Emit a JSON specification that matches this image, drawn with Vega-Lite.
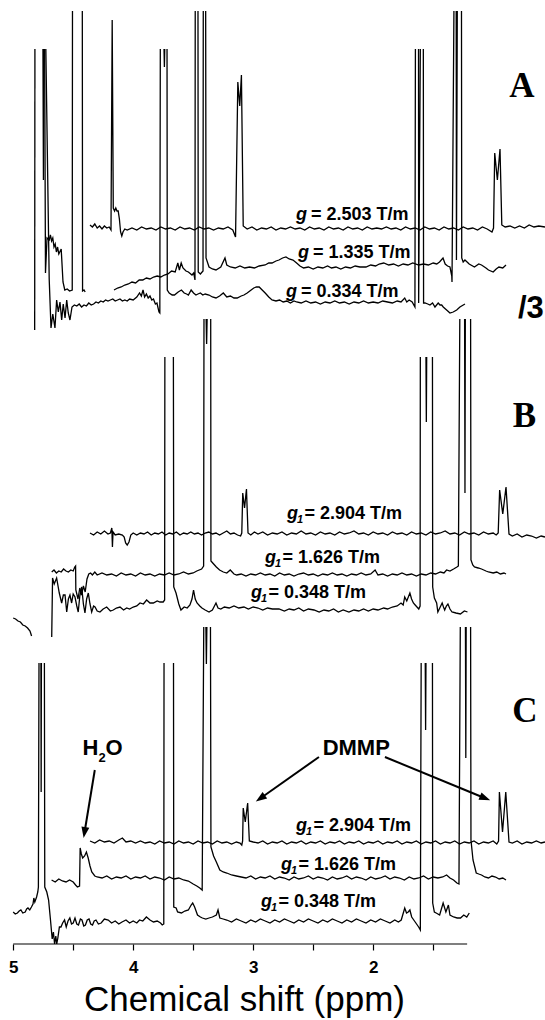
{
"$schema": "https://vega.github.io/schema/vega-lite/v6.json",
"width": 545, "height": 944,
"autosize": {"type": "none"},
"padding": {"left": 0, "top": 0, "right": 0, "bottom": 76},
"background": "white",
"config": {"view": {"stroke": null}, "font": "Liberation Sans"},
"datasets": {
"tr": [
{"s":"a1","x":4.36,"y":719},{"s":"a1","x":4.34,"y":717},{"s":"a1","x":4.32,"y":720},{"s":"a1","x":4.30,"y":716},{"s":"a1","x":4.28,"y":718},{"s":"a1","x":4.26,"y":715},{"s":"a1","x":4.24,"y":718},{"s":"a1","x":4.22,"y":716},{"s":"a1","x":4.20,"y":717},{"s":"a1","x":4.185,"y":714},{"s":"a1","x":4.175,"y":924},{"s":"a1","x":4.166,"y":736},{"s":"a1","x":4.155,"y":733},{"s":"a1","x":4.145,"y":736},{"s":"a1","x":4.135,"y":733},{"s":"a1","x":4.125,"y":733},{"s":"a1","x":4.115,"y":725},{"s":"a1","x":4.105,"y":712},{"s":"a1","x":4.095,"y":708},{"s":"a1","x":4.085,"y":712},{"s":"a1","x":4.07,"y":715},{"s":"a1","x":4.05,"y":714},{"s":"a1","x":4.01,"y":716},{"s":"a1","x":3.97,"y":714},{"s":"a1","x":3.93,"y":717},{"s":"a1","x":3.89,"y":715},{"s":"a1","x":3.85,"y":716},{"s":"a1","x":3.81,"y":714},{"s":"a1","x":3.77,"y":717},{"s":"a1","x":3.73,"y":715},{"s":"a1","x":3.69,"y":716},{"s":"a1","x":3.65,"y":714},{"s":"a1","x":3.61,"y":717},{"s":"a1","x":3.57,"y":715},{"s":"a1","x":3.53,"y":716},{"s":"a1","x":3.49,"y":714},{"s":"a1","x":3.45,"y":717},{"s":"a1","x":3.41,"y":715},{"s":"a1","x":3.37,"y":716},{"s":"a1","x":3.33,"y":714},{"s":"a1","x":3.29,"y":716},{"s":"a1","x":3.25,"y":715},{"s":"a1","x":3.21,"y":717},{"s":"a1","x":3.17,"y":714},{"s":"a1","x":3.147,"y":707},{"s":"a1","x":3.128,"y":862},{"s":"a1","x":3.112,"y":838},{"s":"a1","x":3.098,"y":869},{"s":"a1","x":3.083,"y":718},{"s":"a1","x":3.05,"y":715},{"s":"a1","x":3.01,"y":717},{"s":"a1","x":2.97,"y":714},{"s":"a1","x":2.93,"y":716},{"s":"a1","x":2.89,"y":715},{"s":"a1","x":2.85,"y":717},{"s":"a1","x":2.81,"y":714},{"s":"a1","x":2.77,"y":716},{"s":"a1","x":2.73,"y":715},{"s":"a1","x":2.69,"y":717},{"s":"a1","x":2.65,"y":715},{"s":"a1","x":2.61,"y":716},{"s":"a1","x":2.57,"y":714},{"s":"a1","x":2.53,"y":717},{"s":"a1","x":2.49,"y":715},{"s":"a1","x":2.45,"y":716},{"s":"a1","x":2.41,"y":714},{"s":"a1","x":2.37,"y":717},{"s":"a1","x":2.33,"y":715},{"s":"a1","x":2.29,"y":716},{"s":"a1","x":2.25,"y":714},{"s":"a1","x":2.21,"y":717},{"s":"a1","x":2.17,"y":715},{"s":"a1","x":2.13,"y":716},{"s":"a1","x":2.09,"y":714},{"s":"a1","x":2.05,"y":717},{"s":"a1","x":2.01,"y":715},{"s":"a1","x":1.97,"y":716},{"s":"a1","x":1.93,"y":715},{"s":"a1","x":1.89,"y":717},{"s":"a1","x":1.85,"y":715},{"s":"a1","x":1.81,"y":716},{"s":"a1","x":1.77,"y":714},{"s":"a1","x":1.73,"y":717},{"s":"a1","x":1.69,"y":715},{"s":"a1","x":1.65,"y":716},{"s":"a1","x":1.61,"y":714},{"s":"a1","x":1.57,"y":717},{"s":"a1","x":1.53,"y":715},{"s":"a1","x":1.49,"y":716},{"s":"a1","x":1.45,"y":714},{"s":"a1","x":1.41,"y":717},{"s":"a1","x":1.37,"y":715},{"s":"a1","x":1.33,"y":716},{"s":"a1","x":1.29,"y":714},{"s":"a1","x":1.25,"y":717},{"s":"a1","x":1.21,"y":715},{"s":"a1","x":1.17,"y":716},{"s":"a1","x":1.13,"y":714},{"s":"a1","x":1.09,"y":717},{"s":"a1","x":1.05,"y":715},{"s":"a1","x":1.01,"y":712},{"s":"a1","x":0.997,"y":716},{"s":"a1","x":0.987,"y":791},{"s":"a1","x":0.965,"y":764},{"s":"a1","x":0.943,"y":795},{"s":"a1","x":0.928,"y":719},{"s":"a1","x":0.90,"y":717},{"s":"a1","x":0.86,"y":718},{"s":"a1","x":0.82,"y":716},{"s":"a1","x":0.78,"y":718},{"s":"a1","x":0.74,"y":716},{"s":"a1","x":0.70,"y":719},{"s":"a1","x":0.66,"y":717},{"s":"a1","x":0.62,"y":718},{"s":"a1","x":0.568,"y":717},
{"s":"a2a","x":4.752,"y":895},{"s":"a2a","x":4.748,"y":764},{"s":"a2a","x":4.745,"y":895},
{"s":"a2b","x":4.738,"y":895},{"s":"a2b","x":4.731,"y":671},{"s":"a2b","x":4.718,"y":706},{"s":"a2b","x":4.70,"y":704},{"s":"a2b","x":4.69,"y":709},{"s":"a2b","x":4.68,"y":703},{"s":"a2b","x":4.67,"y":706},{"s":"a2b","x":4.66,"y":697},{"s":"a2b","x":4.65,"y":700},{"s":"a2b","x":4.64,"y":692},{"s":"a2b","x":4.63,"y":697},{"s":"a2b","x":4.62,"y":690},{"s":"a2b","x":4.60,"y":695},{"s":"a2b","x":4.585,"y":662},{"s":"a2b","x":4.57,"y":654},{"s":"a2b","x":4.55,"y":655},{"s":"a2b","x":4.53,"y":653},{"s":"a2b","x":4.508,"y":654},{"s":"a2b","x":4.506,"y":933},
{"s":"a2c","x":4.424,"y":933},{"s":"a2c","x":4.422,"y":653},{"s":"a2c","x":4.41,"y":654},{"s":"a2c","x":4.40,"y":652},
{"s":"a2d","x":4.16,"y":654},{"s":"a2d","x":4.13,"y":656},{"s":"a2d","x":4.10,"y":657},{"s":"a2d","x":4.07,"y":659},{"s":"a2d","x":4.04,"y":660},{"s":"a2d","x":4.01,"y":662},{"s":"a2d","x":3.98,"y":661},{"s":"a2d","x":3.95,"y":664},{"s":"a2d","x":3.92,"y":664},{"s":"a2d","x":3.89,"y":666},{"s":"a2d","x":3.86,"y":665},{"s":"a2d","x":3.83,"y":667},{"s":"a2d","x":3.80,"y":668},{"s":"a2d","x":3.77,"y":667},{"s":"a2d","x":3.74,"y":669},{"s":"a2d","x":3.71,"y":670},{"s":"a2d","x":3.68,"y":673},{"s":"a2d","x":3.65,"y":672},{"s":"a2d","x":3.628,"y":681},{"s":"a2d","x":3.615,"y":674},{"s":"a2d","x":3.60,"y":681},{"s":"a2d","x":3.585,"y":676},{"s":"a2d","x":3.56,"y":673},{"s":"a2d","x":3.54,"y":672},{"s":"a2d","x":3.51,"y":669},{"s":"a2d","x":3.496,"y":671},{"s":"a2d","x":3.485,"y":664},{"s":"a2d","x":3.483,"y":933},
{"s":"a2e","x":3.46,"y":933},{"s":"a2e","x":3.458,"y":672},{"s":"a2e","x":3.44,"y":670},{"s":"a2e","x":3.418,"y":673},{"s":"a2e","x":3.416,"y":933},
{"s":"a2f","x":3.396,"y":933},{"s":"a2f","x":3.393,"y":686},{"s":"a2f","x":3.368,"y":677},{"s":"a2f","x":3.34,"y":675},{"s":"a2f","x":3.31,"y":674},{"s":"a2f","x":3.27,"y":677},{"s":"a2f","x":3.235,"y":686},{"s":"a2f","x":3.22,"y":679},{"s":"a2f","x":3.19,"y":677},{"s":"a2f","x":3.15,"y":676},{"s":"a2f","x":3.11,"y":678},{"s":"a2f","x":3.07,"y":676},{"s":"a2f","x":3.03,"y":677},{"s":"a2f","x":2.99,"y":676},{"s":"a2f","x":2.95,"y":678},{"s":"a2f","x":2.90,"y":679},{"s":"a2f","x":2.87,"y":681},{"s":"a2f","x":2.843,"y":681},{"s":"a2f","x":2.81,"y":683},{"s":"a2f","x":2.785,"y":684},{"s":"a2f","x":2.755,"y":686},{"s":"a2f","x":2.727,"y":687},{"s":"a2f","x":2.70,"y":685},{"s":"a2f","x":2.668,"y":684},{"s":"a2f","x":2.638,"y":681},{"s":"a2f","x":2.61,"y":678},{"s":"a2f","x":2.58,"y":676},{"s":"a2f","x":2.54,"y":677},{"s":"a2f","x":2.50,"y":675},{"s":"a2f","x":2.46,"y":677},{"s":"a2f","x":2.42,"y":676},{"s":"a2f","x":2.38,"y":678},{"s":"a2f","x":2.347,"y":676},{"s":"a2f","x":2.31,"y":677},{"s":"a2f","x":2.27,"y":675},{"s":"a2f","x":2.23,"y":677},{"s":"a2f","x":2.19,"y":676},{"s":"a2f","x":2.15,"y":678},{"s":"a2f","x":2.11,"y":677},{"s":"a2f","x":2.06,"y":677},{"s":"a2f","x":2.02,"y":679},{"s":"a2f","x":1.98,"y":678},{"s":"a2f","x":1.95,"y":680},{"s":"a2f","x":1.912,"y":681},{"s":"a2f","x":1.87,"y":679},{"s":"a2f","x":1.83,"y":680},{"s":"a2f","x":1.79,"y":678},{"s":"a2f","x":1.75,"y":680},{"s":"a2f","x":1.71,"y":679},{"s":"a2f","x":1.67,"y":681},{"s":"a2f","x":1.621,"y":679},{"s":"a2f","x":1.58,"y":680},{"s":"a2f","x":1.54,"y":679},{"s":"a2f","x":1.50,"y":681},{"s":"a2f","x":1.47,"y":680},{"s":"a2f","x":1.447,"y":682},{"s":"a2f","x":1.418,"y":686},{"s":"a2f","x":1.40,"y":680},{"s":"a2f","x":1.38,"y":678},{"s":"a2f","x":1.36,"y":677},{"s":"a2f","x":1.345,"y":668},{"s":"a2f","x":1.343,"y":662},{"s":"a2f","x":1.327,"y":933},
{"s":"a2g","x":1.308,"y":933},{"s":"a2g","x":1.306,"y":684},{"s":"a2g","x":1.299,"y":933},
{"s":"a2h","x":1.264,"y":933},{"s":"a2h","x":1.262,"y":686},{"s":"a2h","x":1.25,"y":682},{"s":"a2h","x":1.235,"y":684},{"s":"a2h","x":1.20,"y":680},{"s":"a2h","x":1.156,"y":677},{"s":"a2h","x":1.12,"y":680},{"s":"a2h","x":1.097,"y":679},{"s":"a2h","x":1.06,"y":676},{"s":"a2h","x":1.039,"y":674},{"s":"a2h","x":1.0,"y":672},{"s":"a2h","x":0.975,"y":675},{"s":"a2h","x":0.952,"y":677},{"s":"a2h","x":0.92,"y":676},{"s":"a2h","x":0.893,"y":679},
{"s":"a3a","x":4.821,"y":614},{"s":"a3a","x":4.819,"y":895},
{"s":"a3b","x":4.728,"y":895},{"s":"a3b","x":4.70,"y":665},{"s":"a3b","x":4.685,"y":616},{"s":"a3b","x":4.67,"y":630},{"s":"a3b","x":4.652,"y":616},{"s":"a3b","x":4.638,"y":644},{"s":"a3b","x":4.624,"y":632},{"s":"a3b","x":4.61,"y":642},{"s":"a3b","x":4.596,"y":624},{"s":"a3b","x":4.583,"y":640},{"s":"a3b","x":4.568,"y":626},{"s":"a3b","x":4.554,"y":644},{"s":"a3b","x":4.541,"y":631},{"s":"a3b","x":4.527,"y":624},{"s":"a3b","x":4.51,"y":637},{"s":"a3b","x":4.49,"y":639},{"s":"a3b","x":4.47,"y":638},{"s":"a3b","x":4.45,"y":640},{"s":"a3b","x":4.43,"y":637},{"s":"a3b","x":4.41,"y":639},{"s":"a3b","x":4.39,"y":638},{"s":"a3b","x":4.37,"y":641},{"s":"a3b","x":4.35,"y":639},{"s":"a3b","x":4.33,"y":640},{"s":"a3b","x":4.31,"y":642},{"s":"a3b","x":4.29,"y":641},{"s":"a3b","x":4.27,"y":643},{"s":"a3b","x":4.25,"y":642},{"s":"a3b","x":4.23,"y":644},{"s":"a3b","x":4.21,"y":643},{"s":"a3b","x":4.19,"y":644},{"s":"a3b","x":4.17,"y":645},{"s":"a3b","x":4.15,"y":643},{"s":"a3b","x":4.13,"y":644},{"s":"a3b","x":4.11,"y":645},{"s":"a3b","x":4.09,"y":643},{"s":"a3b","x":4.07,"y":644},{"s":"a3b","x":4.05,"y":643},{"s":"a3b","x":4.03,"y":645},{"s":"a3b","x":4.0,"y":644},{"s":"a3b","x":3.97,"y":647},{"s":"a3b","x":3.947,"y":651},{"s":"a3b","x":3.932,"y":648},{"s":"a3b","x":3.918,"y":654},{"s":"a3b","x":3.905,"y":647},{"s":"a3b","x":3.89,"y":650},{"s":"a3b","x":3.875,"y":646},{"s":"a3b","x":3.86,"y":648},{"s":"a3b","x":3.845,"y":644},{"s":"a3b","x":3.831,"y":645},{"s":"a3b","x":3.815,"y":640},{"s":"a3b","x":3.802,"y":641},{"s":"a3b","x":3.785,"y":632},{"s":"a3b","x":3.778,"y":631},{"s":"a3b","x":3.774,"y":895},
{"s":"a3c","x":3.743,"y":895},{"s":"a3c","x":3.740,"y":877},{"s":"a3c","x":3.737,"y":895},
{"s":"a3d","x":3.718,"y":895},{"s":"a3d","x":3.716,"y":654},{"s":"a3d","x":3.70,"y":651},{"s":"a3d","x":3.675,"y":649},{"s":"a3d","x":3.656,"y":649},{"s":"a3d","x":3.625,"y":652},{"s":"a3d","x":3.598,"y":654},{"s":"a3d","x":3.575,"y":651},{"s":"a3d","x":3.555,"y":650},{"s":"a3d","x":3.54,"y":649},{"s":"a3d","x":3.517,"y":654},{"s":"a3d","x":3.497,"y":651},{"s":"a3d","x":3.477,"y":649},{"s":"a3d","x":3.46,"y":650},{"s":"a3d","x":3.44,"y":651},{"s":"a3d","x":3.42,"y":649},{"s":"a3d","x":3.40,"y":650},{"s":"a3d","x":3.368,"y":649},{"s":"a3d","x":3.34,"y":647},{"s":"a3d","x":3.31,"y":646},{"s":"a3d","x":3.28,"y":648},{"s":"a3d","x":3.249,"y":651},{"s":"a3d","x":3.22,"y":647},{"s":"a3d","x":3.19,"y":648},{"s":"a3d","x":3.16,"y":646},{"s":"a3d","x":3.133,"y":646},{"s":"a3d","x":3.10,"y":648},{"s":"a3d","x":3.077,"y":649},{"s":"a3d","x":3.05,"y":651},{"s":"a3d","x":3.017,"y":654},{"s":"a3d","x":2.995,"y":656},{"s":"a3d","x":2.973,"y":657},{"s":"a3d","x":2.95,"y":657},{"s":"a3d","x":2.925,"y":654},{"s":"a3d","x":2.9,"y":651},{"s":"a3d","x":2.87,"y":647},{"s":"a3d","x":2.843,"y":644},{"s":"a3d","x":2.81,"y":643},{"s":"a3d","x":2.78,"y":644},{"s":"a3d","x":2.75,"y":642},{"s":"a3d","x":2.72,"y":643},{"s":"a3d","x":2.69,"y":641},{"s":"a3d","x":2.66,"y":643},{"s":"a3d","x":2.638,"y":642},{"s":"a3d","x":2.60,"y":641},{"s":"a3d","x":2.56,"y":643},{"s":"a3d","x":2.52,"y":641},{"s":"a3d","x":2.48,"y":642},{"s":"a3d","x":2.44,"y":640},{"s":"a3d","x":2.40,"y":642},{"s":"a3d","x":2.36,"y":641},{"s":"a3d","x":2.32,"y":643},{"s":"a3d","x":2.28,"y":641},{"s":"a3d","x":2.24,"y":642},{"s":"a3d","x":2.20,"y":640},{"s":"a3d","x":2.16,"y":642},{"s":"a3d","x":2.12,"y":641},{"s":"a3d","x":2.08,"y":643},{"s":"a3d","x":2.04,"y":641},{"s":"a3d","x":2.00,"y":642},{"s":"a3d","x":1.96,"y":641},{"s":"a3d","x":1.92,"y":643},{"s":"a3d","x":1.88,"y":642},{"s":"a3d","x":1.84,"y":641},{"s":"a3d","x":1.80,"y":643},{"s":"a3d","x":1.768,"y":642},{"s":"a3d","x":1.737,"y":646},{"s":"a3d","x":1.72,"y":642},{"s":"a3d","x":1.70,"y":644},{"s":"a3d","x":1.675,"y":642},{"s":"a3d","x":1.652,"y":637},{"s":"a3d","x":1.648,"y":895},
{"s":"a3e","x":1.622,"y":895},{"s":"a3e","x":1.621,"y":641},{"s":"a3e","x":1.607,"y":895},
{"s":"a3f","x":1.582,"y":895},{"s":"a3f","x":1.58,"y":641},{"s":"a3f","x":1.568,"y":641},{"s":"a3f","x":1.545,"y":640},{"s":"a3f","x":1.527,"y":639},{"s":"a3f","x":1.505,"y":641},{"s":"a3f","x":1.485,"y":637},{"s":"a3f","x":1.458,"y":641},{"s":"a3f","x":1.443,"y":639},{"s":"a3f","x":1.429,"y":639},{"s":"a3f","x":1.416,"y":637},{"s":"a3f","x":1.388,"y":634},{"s":"a3f","x":1.36,"y":631},{"s":"a3f","x":1.333,"y":632},{"s":"a3f","x":1.304,"y":634},{"s":"a3f","x":1.277,"y":637},{"s":"a3f","x":1.235,"y":640},
{"s":"b1","x":4.36,"y":411},{"s":"b1","x":4.33,"y":409},{"s":"b1","x":4.30,"y":412},{"s":"b1","x":4.27,"y":410},{"s":"b1","x":4.24,"y":413},{"s":"b1","x":4.21,"y":410},{"s":"b1","x":4.19,"y":411},{"s":"b1","x":4.178,"y":416},{"s":"b1","x":4.173,"y":397},{"s":"b1","x":4.168,"y":412},{"s":"b1","x":4.15,"y":409},{"s":"b1","x":4.12,"y":410},{"s":"b1","x":4.09,"y":409},{"s":"b1","x":4.075,"y":407},{"s":"b1","x":4.063,"y":401},{"s":"b1","x":4.05,"y":399},{"s":"b1","x":4.035,"y":402},{"s":"b1","x":4.02,"y":409},{"s":"b1","x":4.0,"y":411},{"s":"b1","x":3.97,"y":409},{"s":"b1","x":3.94,"y":411},{"s":"b1","x":3.91,"y":410},{"s":"b1","x":3.88,"y":412},{"s":"b1","x":3.85,"y":409},{"s":"b1","x":3.82,"y":411},{"s":"b1","x":3.79,"y":410},{"s":"b1","x":3.76,"y":412},{"s":"b1","x":3.73,"y":409},{"s":"b1","x":3.70,"y":411},{"s":"b1","x":3.67,"y":410},{"s":"b1","x":3.64,"y":412},{"s":"b1","x":3.61,"y":409},{"s":"b1","x":3.58,"y":411},{"s":"b1","x":3.55,"y":410},{"s":"b1","x":3.52,"y":412},{"s":"b1","x":3.49,"y":410},{"s":"b1","x":3.46,"y":411},{"s":"b1","x":3.43,"y":409},{"s":"b1","x":3.40,"y":411},{"s":"b1","x":3.37,"y":412},{"s":"b1","x":3.34,"y":410},{"s":"b1","x":3.31,"y":411},{"s":"b1","x":3.28,"y":409},{"s":"b1","x":3.25,"y":411},{"s":"b1","x":3.22,"y":413},{"s":"b1","x":3.19,"y":410},{"s":"b1","x":3.16,"y":411},{"s":"b1","x":3.13,"y":409},{"s":"b1","x":3.105,"y":408},{"s":"b1","x":3.095,"y":411},{"s":"b1","x":3.087,"y":451},{"s":"b1","x":3.072,"y":436},{"s":"b1","x":3.056,"y":455},{"s":"b1","x":3.043,"y":411},{"s":"b1","x":3.02,"y":409},{"s":"b1","x":2.99,"y":412},{"s":"b1","x":2.96,"y":410},{"s":"b1","x":2.92,"y":412},{"s":"b1","x":2.88,"y":409},{"s":"b1","x":2.84,"y":411},{"s":"b1","x":2.80,"y":410},{"s":"b1","x":2.76,"y":412},{"s":"b1","x":2.72,"y":409},{"s":"b1","x":2.68,"y":411},{"s":"b1","x":2.64,"y":410},{"s":"b1","x":2.60,"y":413},{"s":"b1","x":2.56,"y":410},{"s":"b1","x":2.52,"y":411},{"s":"b1","x":2.48,"y":409},{"s":"b1","x":2.44,"y":412},{"s":"b1","x":2.40,"y":410},{"s":"b1","x":2.36,"y":411},{"s":"b1","x":2.32,"y":409},{"s":"b1","x":2.28,"y":412},{"s":"b1","x":2.24,"y":410},{"s":"b1","x":2.20,"y":411},{"s":"b1","x":2.16,"y":413},{"s":"b1","x":2.12,"y":410},{"s":"b1","x":2.08,"y":411},{"s":"b1","x":2.04,"y":409},{"s":"b1","x":2.00,"y":412},{"s":"b1","x":1.96,"y":410},{"s":"b1","x":1.92,"y":411},{"s":"b1","x":1.88,"y":409},{"s":"b1","x":1.84,"y":412},{"s":"b1","x":1.80,"y":410},{"s":"b1","x":1.76,"y":411},{"s":"b1","x":1.72,"y":409},{"s":"b1","x":1.68,"y":412},{"s":"b1","x":1.64,"y":410},{"s":"b1","x":1.60,"y":411},{"s":"b1","x":1.56,"y":409},{"s":"b1","x":1.52,"y":412},{"s":"b1","x":1.48,"y":410},{"s":"b1","x":1.44,"y":411},{"s":"b1","x":1.40,"y":413},{"s":"b1","x":1.36,"y":410},{"s":"b1","x":1.32,"y":411},{"s":"b1","x":1.28,"y":409},{"s":"b1","x":1.24,"y":412},{"s":"b1","x":1.20,"y":410},{"s":"b1","x":1.16,"y":411},{"s":"b1","x":1.12,"y":409},{"s":"b1","x":1.08,"y":412},{"s":"b1","x":1.04,"y":410},{"s":"b1","x":1.00,"y":411},{"s":"b1","x":0.975,"y":409},{"s":"b1","x":0.958,"y":411},{"s":"b1","x":0.946,"y":454},{"s":"b1","x":0.92,"y":430},{"s":"b1","x":0.893,"y":457},{"s":"b1","x":0.868,"y":410},{"s":"b1","x":0.84,"y":408},{"s":"b1","x":0.80,"y":410},{"s":"b1","x":0.76,"y":407},{"s":"b1","x":0.72,"y":409},{"s":"b1","x":0.68,"y":408},{"s":"b1","x":0.64,"y":406},{"s":"b1","x":0.60,"y":408},{"s":"b1","x":0.568,"y":407},
{"s":"b2","x":4.679,"y":372},{"s":"b2","x":4.66,"y":374},{"s":"b2","x":4.64,"y":371},{"s":"b2","x":4.62,"y":373},{"s":"b2","x":4.60,"y":372},{"s":"b2","x":4.58,"y":375},{"s":"b2","x":4.56,"y":373},{"s":"b2","x":4.54,"y":372},{"s":"b2","x":4.52,"y":374},{"s":"b2","x":4.50,"y":373},{"s":"b2","x":4.487,"y":377},{"s":"b2","x":4.48,"y":378},{"s":"b2","x":4.478,"y":354},{"s":"b2","x":4.46,"y":345},{"s":"b2","x":4.445,"y":356},{"s":"b2","x":4.43,"y":349},{"s":"b2","x":4.415,"y":358},{"s":"b2","x":4.40,"y":352},{"s":"b2","x":4.385,"y":365},{"s":"b2","x":4.37,"y":370},{"s":"b2","x":4.355,"y":371},{"s":"b2","x":4.34,"y":369},{"s":"b2","x":4.32,"y":372},{"s":"b2","x":4.30,"y":369},{"s":"b2","x":4.26,"y":371},{"s":"b2","x":4.22,"y":369},{"s":"b2","x":4.18,"y":370},{"s":"b2","x":4.14,"y":368},{"s":"b2","x":4.10,"y":371},{"s":"b2","x":4.06,"y":369},{"s":"b2","x":4.02,"y":370},{"s":"b2","x":3.98,"y":368},{"s":"b2","x":3.94,"y":371},{"s":"b2","x":3.90,"y":369},{"s":"b2","x":3.86,"y":370},{"s":"b2","x":3.82,"y":368},{"s":"b2","x":3.78,"y":370},{"s":"b2","x":3.74,"y":369},{"s":"b2","x":3.70,"y":371},{"s":"b2","x":3.66,"y":369},{"s":"b2","x":3.62,"y":370},{"s":"b2","x":3.58,"y":372},{"s":"b2","x":3.54,"y":370},{"s":"b2","x":3.50,"y":371},{"s":"b2","x":3.47,"y":373},{"s":"b2","x":3.43,"y":375},{"s":"b2","x":3.413,"y":378},{"s":"b2","x":3.41,"y":625},
{"s":"b2b","x":3.392,"y":625},{"s":"b2b","x":3.388,"y":600},{"s":"b2b","x":3.384,"y":625},
{"s":"b2c","x":3.354,"y":625},{"s":"b2c","x":3.352,"y":383},{"s":"b2c","x":3.337,"y":381},{"s":"b2c","x":3.307,"y":377},{"s":"b2c","x":3.28,"y":374},{"s":"b2c","x":3.249,"y":372},{"s":"b2c","x":3.22,"y":371},{"s":"b2c","x":3.191,"y":374},{"s":"b2c","x":3.16,"y":370},{"s":"b2c","x":3.137,"y":369},{"s":"b2c","x":3.10,"y":370},{"s":"b2c","x":3.06,"y":368},{"s":"b2c","x":3.02,"y":370},{"s":"b2c","x":2.98,"y":369},{"s":"b2c","x":2.94,"y":371},{"s":"b2c","x":2.90,"y":369},{"s":"b2c","x":2.86,"y":370},{"s":"b2c","x":2.82,"y":368},{"s":"b2c","x":2.78,"y":371},{"s":"b2c","x":2.74,"y":369},{"s":"b2c","x":2.70,"y":370},{"s":"b2c","x":2.66,"y":368},{"s":"b2c","x":2.62,"y":370},{"s":"b2c","x":2.58,"y":371},{"s":"b2c","x":2.54,"y":369},{"s":"b2c","x":2.50,"y":370},{"s":"b2c","x":2.46,"y":368},{"s":"b2c","x":2.42,"y":370},{"s":"b2c","x":2.38,"y":369},{"s":"b2c","x":2.34,"y":371},{"s":"b2c","x":2.30,"y":369},{"s":"b2c","x":2.26,"y":370},{"s":"b2c","x":2.22,"y":368},{"s":"b2c","x":2.18,"y":370},{"s":"b2c","x":2.14,"y":369},{"s":"b2c","x":2.10,"y":371},{"s":"b2c","x":2.06,"y":369},{"s":"b2c","x":2.02,"y":370},{"s":"b2c","x":1.984,"y":374},{"s":"b2c","x":1.96,"y":369},{"s":"b2c","x":1.92,"y":370},{"s":"b2c","x":1.88,"y":368},{"s":"b2c","x":1.84,"y":370},{"s":"b2c","x":1.80,"y":369},{"s":"b2c","x":1.76,"y":371},{"s":"b2c","x":1.72,"y":369},{"s":"b2c","x":1.68,"y":370},{"s":"b2c","x":1.64,"y":368},{"s":"b2c","x":1.60,"y":370},{"s":"b2c","x":1.56,"y":369},{"s":"b2c","x":1.52,"y":371},{"s":"b2c","x":1.48,"y":370},{"s":"b2c","x":1.44,"y":372},{"s":"b2c","x":1.41,"y":371},{"s":"b2c","x":1.388,"y":374},{"s":"b2c","x":1.36,"y":373},{"s":"b2c","x":1.33,"y":375},{"s":"b2c","x":1.302,"y":377},{"s":"b2c","x":1.29,"y":378},{"s":"b2c","x":1.278,"y":625},
{"s":"b2d","x":1.238,"y":625},{"s":"b2d","x":1.235,"y":451},{"s":"b2d","x":1.232,"y":625},
{"s":"b2e","x":1.188,"y":625},{"s":"b2e","x":1.185,"y":384},{"s":"b2e","x":1.17,"y":379},{"s":"b2e","x":1.156,"y":377},{"s":"b2e","x":1.125,"y":376},{"s":"b2e","x":1.097,"y":375},{"s":"b2e","x":1.06,"y":373},{"s":"b2e","x":1.039,"y":372},{"s":"b2e","x":1.00,"y":371},{"s":"b2e","x":0.97,"y":372},{"s":"b2e","x":0.94,"y":370},{"s":"b2e","x":0.91,"y":371},{"s":"b2e","x":0.893,"y":370},
{"s":"b3a","x":5.0,"y":326},{"s":"b3a","x":4.98,"y":325},{"s":"b3a","x":4.96,"y":323},{"s":"b3a","x":4.94,"y":322},{"s":"b3a","x":4.92,"y":319},{"s":"b3a","x":4.90,"y":318},{"s":"b3a","x":4.88,"y":316},{"s":"b3a","x":4.86,"y":313},{"s":"b3a","x":4.852,"y":310},{"s":"b3a","x":4.847,"y":308},
{"s":"b3b","x":4.679,"y":307},{"s":"b3b","x":4.672,"y":366},{"s":"b3b","x":4.658,"y":360},{"s":"b3b","x":4.638,"y":366},{"s":"b3b","x":4.616,"y":351},{"s":"b3b","x":4.596,"y":341},{"s":"b3b","x":4.582,"y":349},{"s":"b3b","x":4.568,"y":349},{"s":"b3b","x":4.554,"y":332},{"s":"b3b","x":4.54,"y":345},{"s":"b3b","x":4.527,"y":349},{"s":"b3b","x":4.513,"y":341},{"s":"b3b","x":4.50,"y":350},{"s":"b3b","x":4.485,"y":347},{"s":"b3b","x":4.47,"y":338},{"s":"b3b","x":4.458,"y":332},{"s":"b3b","x":4.445,"y":348},{"s":"b3b","x":4.429,"y":357},{"s":"b3b","x":4.415,"y":340},{"s":"b3b","x":4.402,"y":331},{"s":"b3b","x":4.388,"y":345},{"s":"b3b","x":4.374,"y":351},{"s":"b3b","x":4.36,"y":340},{"s":"b3b","x":4.346,"y":332},{"s":"b3b","x":4.33,"y":338},{"s":"b3b","x":4.318,"y":337},{"s":"b3b","x":4.30,"y":333},{"s":"b3b","x":4.277,"y":332},{"s":"b3b","x":4.25,"y":335},{"s":"b3b","x":4.221,"y":337},{"s":"b3b","x":4.19,"y":333},{"s":"b3b","x":4.166,"y":334},{"s":"b3b","x":4.14,"y":336},{"s":"b3b","x":4.11,"y":337},{"s":"b3b","x":4.08,"y":334},{"s":"b3b","x":4.054,"y":336},{"s":"b3b","x":4.03,"y":335},{"s":"b3b","x":4.0,"y":337},{"s":"b3b","x":3.97,"y":338},{"s":"b3b","x":3.943,"y":341},{"s":"b3b","x":3.915,"y":340},{"s":"b3b","x":3.888,"y":344},{"s":"b3b","x":3.86,"y":341},{"s":"b3b","x":3.832,"y":341},{"s":"b3b","x":3.80,"y":343},{"s":"b3b","x":3.777,"y":342},{"s":"b3b","x":3.75,"y":342},{"s":"b3b","x":3.738,"y":344},{"s":"b3b","x":3.736,"y":587},
{"s":"b3c","x":3.665,"y":587},{"s":"b3c","x":3.662,"y":357},{"s":"b3c","x":3.643,"y":351},{"s":"b3c","x":3.62,"y":340},{"s":"b3c","x":3.602,"y":334},{"s":"b3c","x":3.575,"y":337},{"s":"b3c","x":3.55,"y":336},{"s":"b3c","x":3.527,"y":339},{"s":"b3c","x":3.51,"y":345},{"s":"b3c","x":3.497,"y":354},{"s":"b3c","x":3.483,"y":345},{"s":"b3c","x":3.468,"y":341},{"s":"b3c","x":3.445,"y":338},{"s":"b3c","x":3.427,"y":336},{"s":"b3c","x":3.40,"y":334},{"s":"b3c","x":3.368,"y":332},{"s":"b3c","x":3.34,"y":334},{"s":"b3c","x":3.31,"y":341},{"s":"b3c","x":3.293,"y":336},{"s":"b3c","x":3.27,"y":335},{"s":"b3c","x":3.24,"y":337},{"s":"b3c","x":3.20,"y":336},{"s":"b3c","x":3.16,"y":338},{"s":"b3c","x":3.12,"y":336},{"s":"b3c","x":3.077,"y":337},{"s":"b3c","x":3.04,"y":335},{"s":"b3c","x":3.00,"y":337},{"s":"b3c","x":2.96,"y":336},{"s":"b3c","x":2.92,"y":334},{"s":"b3c","x":2.88,"y":336},{"s":"b3c","x":2.84,"y":335},{"s":"b3c","x":2.785,"y":335},{"s":"b3c","x":2.74,"y":333},{"s":"b3c","x":2.70,"y":335},{"s":"b3c","x":2.66,"y":334},{"s":"b3c","x":2.62,"y":336},{"s":"b3c","x":2.58,"y":333},{"s":"b3c","x":2.54,"y":335},{"s":"b3c","x":2.493,"y":334},{"s":"b3c","x":2.45,"y":332},{"s":"b3c","x":2.41,"y":334},{"s":"b3c","x":2.37,"y":333},{"s":"b3c","x":2.33,"y":335},{"s":"b3c","x":2.29,"y":332},{"s":"b3c","x":2.25,"y":334},{"s":"b3c","x":2.202,"y":332},{"s":"b3c","x":2.16,"y":334},{"s":"b3c","x":2.12,"y":333},{"s":"b3c","x":2.08,"y":335},{"s":"b3c","x":2.04,"y":333},{"s":"b3c","x":2.00,"y":335},{"s":"b3c","x":1.96,"y":334},{"s":"b3c","x":1.912,"y":336},{"s":"b3c","x":1.88,"y":335},{"s":"b3c","x":1.84,"y":337},{"s":"b3c","x":1.80,"y":338},{"s":"b3c","x":1.768,"y":341},{"s":"b3c","x":1.75,"y":339},{"s":"b3c","x":1.737,"y":347},{"s":"b3c","x":1.72,"y":343},{"s":"b3c","x":1.694,"y":351},{"s":"b3c","x":1.68,"y":345},{"s":"b3c","x":1.665,"y":341},{"s":"b3c","x":1.65,"y":339},{"s":"b3c","x":1.635,"y":337},{"s":"b3c","x":1.62,"y":335},{"s":"b3c","x":1.609,"y":338},{"s":"b3c","x":1.607,"y":587},
{"s":"b3d","x":1.56,"y":587},{"s":"b3d","x":1.557,"y":522},{"s":"b3d","x":1.554,"y":587},
{"s":"b3e","x":1.506,"y":587},{"s":"b3e","x":1.504,"y":357},{"s":"b3e","x":1.49,"y":346},{"s":"b3e","x":1.471,"y":341},{"s":"b3e","x":1.461,"y":332},{"s":"b3e","x":1.445,"y":336},{"s":"b3e","x":1.425,"y":341},{"s":"b3e","x":1.414,"y":337},{"s":"b3e","x":1.404,"y":334},{"s":"b3e","x":1.39,"y":338},{"s":"b3e","x":1.377,"y":340},{"s":"b3e","x":1.36,"y":335},{"s":"b3e","x":1.343,"y":332},{"s":"b3e","x":1.31,"y":331},{"s":"b3e","x":1.273,"y":330},{"s":"b3e","x":1.24,"y":333},{"s":"b3e","x":1.214,"y":332},
{"s":"c1","x":4.36,"y":103},{"s":"c1","x":4.32,"y":101},{"s":"c1","x":4.28,"y":104},{"s":"c1","x":4.24,"y":102},{"s":"c1","x":4.20,"y":103},{"s":"c1","x":4.16,"y":101},{"s":"c1","x":4.12,"y":104},{"s":"c1","x":4.09,"y":106},{"s":"c1","x":4.06,"y":102},{"s":"c1","x":4.02,"y":103},{"s":"c1","x":3.98,"y":101},{"s":"c1","x":3.94,"y":103},{"s":"c1","x":3.90,"y":101},{"s":"c1","x":3.86,"y":102},{"s":"c1","x":3.82,"y":100},{"s":"c1","x":3.78,"y":103},{"s":"c1","x":3.74,"y":101},{"s":"c1","x":3.70,"y":102},{"s":"c1","x":3.66,"y":100},{"s":"c1","x":3.62,"y":103},{"s":"c1","x":3.58,"y":101},{"s":"c1","x":3.54,"y":102},{"s":"c1","x":3.50,"y":100},{"s":"c1","x":3.46,"y":103},{"s":"c1","x":3.42,"y":101},{"s":"c1","x":3.38,"y":102},{"s":"c1","x":3.34,"y":100},{"s":"c1","x":3.30,"y":103},{"s":"c1","x":3.26,"y":101},{"s":"c1","x":3.22,"y":102},{"s":"c1","x":3.18,"y":100},{"s":"c1","x":3.14,"y":102},{"s":"c1","x":3.11,"y":101},{"s":"c1","x":3.095,"y":99},{"s":"c1","x":3.088,"y":103},{"s":"c1","x":3.083,"y":136},{"s":"c1","x":3.066,"y":122},{"s":"c1","x":3.046,"y":141},{"s":"c1","x":3.032,"y":103},{"s":"c1","x":3.00,"y":102},{"s":"c1","x":2.96,"y":101},{"s":"c1","x":2.92,"y":103},{"s":"c1","x":2.88,"y":100},{"s":"c1","x":2.84,"y":102},{"s":"c1","x":2.80,"y":101},{"s":"c1","x":2.76,"y":103},{"s":"c1","x":2.72,"y":100},{"s":"c1","x":2.68,"y":102},{"s":"c1","x":2.64,"y":101},{"s":"c1","x":2.60,"y":103},{"s":"c1","x":2.56,"y":100},{"s":"c1","x":2.52,"y":102},{"s":"c1","x":2.48,"y":101},{"s":"c1","x":2.44,"y":103},{"s":"c1","x":2.40,"y":100},{"s":"c1","x":2.36,"y":102},{"s":"c1","x":2.32,"y":101},{"s":"c1","x":2.28,"y":103},{"s":"c1","x":2.24,"y":100},{"s":"c1","x":2.20,"y":102},{"s":"c1","x":2.16,"y":101},{"s":"c1","x":2.12,"y":103},{"s":"c1","x":2.08,"y":100},{"s":"c1","x":2.04,"y":102},{"s":"c1","x":2.00,"y":101},{"s":"c1","x":1.96,"y":103},{"s":"c1","x":1.92,"y":100},{"s":"c1","x":1.88,"y":102},{"s":"c1","x":1.84,"y":101},{"s":"c1","x":1.80,"y":103},{"s":"c1","x":1.76,"y":100},{"s":"c1","x":1.72,"y":102},{"s":"c1","x":1.68,"y":101},{"s":"c1","x":1.64,"y":103},{"s":"c1","x":1.60,"y":100},{"s":"c1","x":1.56,"y":102},{"s":"c1","x":1.52,"y":101},{"s":"c1","x":1.48,"y":103},{"s":"c1","x":1.44,"y":100},{"s":"c1","x":1.40,"y":102},{"s":"c1","x":1.36,"y":101},{"s":"c1","x":1.32,"y":103},{"s":"c1","x":1.28,"y":100},{"s":"c1","x":1.24,"y":102},{"s":"c1","x":1.20,"y":101},{"s":"c1","x":1.16,"y":103},{"s":"c1","x":1.12,"y":100},{"s":"c1","x":1.08,"y":102},{"s":"c1","x":1.04,"y":101},{"s":"c1","x":1.00,"y":103},{"s":"c1","x":0.97,"y":100},{"s":"c1","x":0.955,"y":103},{"s":"c1","x":0.948,"y":152},{"s":"c1","x":0.922,"y":112},{"s":"c1","x":0.895,"y":152},{"s":"c1","x":0.868,"y":102},{"s":"c1","x":0.84,"y":101},{"s":"c1","x":0.80,"y":103},{"s":"c1","x":0.76,"y":100},{"s":"c1","x":0.72,"y":102},{"s":"c1","x":0.68,"y":101},{"s":"c1","x":0.64,"y":103},{"s":"c1","x":0.60,"y":101},{"s":"c1","x":0.568,"y":102},
{"s":"c2","x":4.68,"y":64},{"s":"c2","x":4.65,"y":62},{"s":"c2","x":4.62,"y":65},{"s":"c2","x":4.59,"y":63},{"s":"c2","x":4.56,"y":62},{"s":"c2","x":4.53,"y":64},{"s":"c2","x":4.50,"y":62},{"s":"c2","x":4.48,"y":59},{"s":"c2","x":4.465,"y":57},{"s":"c2","x":4.447,"y":58},{"s":"c2","x":4.442,"y":96},{"s":"c2","x":4.432,"y":90},{"s":"c2","x":4.421,"y":86},{"s":"c2","x":4.405,"y":88},{"s":"c2","x":4.39,"y":92},{"s":"c2","x":4.375,"y":86},{"s":"c2","x":4.36,"y":78},{"s":"c2","x":4.345,"y":72},{"s":"c2","x":4.32,"y":68},{"s":"c2","x":4.30,"y":67},{"s":"c2","x":4.26,"y":66},{"s":"c2","x":4.22,"y":68},{"s":"c2","x":4.18,"y":65},{"s":"c2","x":4.14,"y":67},{"s":"c2","x":4.10,"y":66},{"s":"c2","x":4.06,"y":68},{"s":"c2","x":4.02,"y":65},{"s":"c2","x":3.98,"y":67},{"s":"c2","x":3.94,"y":66},{"s":"c2","x":3.90,"y":68},{"s":"c2","x":3.86,"y":65},{"s":"c2","x":3.82,"y":67},{"s":"c2","x":3.78,"y":66},{"s":"c2","x":3.74,"y":64},{"s":"c2","x":3.70,"y":67},{"s":"c2","x":3.66,"y":65},{"s":"c2","x":3.62,"y":66},{"s":"c2","x":3.58,"y":64},{"s":"c2","x":3.54,"y":63},{"s":"c2","x":3.50,"y":60},{"s":"c2","x":3.47,"y":58},{"s":"c2","x":3.445,"y":56},{"s":"c2","x":3.425,"y":54},{"s":"c2","x":3.412,"y":317},
{"s":"c2b","x":3.394,"y":317},{"s":"c2b","x":3.39,"y":280},{"s":"c2b","x":3.386,"y":317},
{"s":"c2c","x":3.356,"y":317},{"s":"c2c","x":3.352,"y":97},{"s":"c2c","x":3.33,"y":88},{"s":"c2c","x":3.307,"y":82},{"s":"c2c","x":3.278,"y":74},{"s":"c2c","x":3.25,"y":72},{"s":"c2c","x":3.22,"y":71},{"s":"c2c","x":3.18,"y":69},{"s":"c2c","x":3.14,"y":68},{"s":"c2c","x":3.10,"y":67},{"s":"c2c","x":3.06,"y":66},{"s":"c2c","x":3.02,"y":68},{"s":"c2c","x":2.98,"y":65},{"s":"c2c","x":2.94,"y":67},{"s":"c2c","x":2.90,"y":66},{"s":"c2c","x":2.86,"y":68},{"s":"c2c","x":2.82,"y":65},{"s":"c2c","x":2.78,"y":67},{"s":"c2c","x":2.74,"y":66},{"s":"c2c","x":2.70,"y":64},{"s":"c2c","x":2.66,"y":67},{"s":"c2c","x":2.62,"y":65},{"s":"c2c","x":2.58,"y":66},{"s":"c2c","x":2.54,"y":68},{"s":"c2c","x":2.50,"y":65},{"s":"c2c","x":2.46,"y":67},{"s":"c2c","x":2.42,"y":66},{"s":"c2c","x":2.38,"y":64},{"s":"c2c","x":2.34,"y":67},{"s":"c2c","x":2.30,"y":65},{"s":"c2c","x":2.26,"y":66},{"s":"c2c","x":2.22,"y":68},{"s":"c2c","x":2.18,"y":65},{"s":"c2c","x":2.14,"y":67},{"s":"c2c","x":2.10,"y":66},{"s":"c2c","x":2.06,"y":64},{"s":"c2c","x":2.02,"y":67},{"s":"c2c","x":1.98,"y":65},{"s":"c2c","x":1.94,"y":66},{"s":"c2c","x":1.90,"y":68},{"s":"c2c","x":1.86,"y":65},{"s":"c2c","x":1.82,"y":67},{"s":"c2c","x":1.78,"y":66},{"s":"c2c","x":1.74,"y":64},{"s":"c2c","x":1.70,"y":67},{"s":"c2c","x":1.66,"y":65},{"s":"c2c","x":1.62,"y":66},{"s":"c2c","x":1.58,"y":68},{"s":"c2c","x":1.54,"y":65},{"s":"c2c","x":1.50,"y":67},{"s":"c2c","x":1.46,"y":66},{"s":"c2c","x":1.42,"y":67},{"s":"c2c","x":1.388,"y":69},{"s":"c2c","x":1.36,"y":66},{"s":"c2c","x":1.33,"y":64},{"s":"c2c","x":1.302,"y":61},{"s":"c2c","x":1.285,"y":60},{"s":"c2c","x":1.274,"y":317},
{"s":"c2d","x":1.231,"y":317},{"s":"c2d","x":1.228,"y":186},{"s":"c2d","x":1.225,"y":317},
{"s":"c2e","x":1.188,"y":317},{"s":"c2e","x":1.185,"y":104},{"s":"c2e","x":1.168,"y":84},{"s":"c2e","x":1.141,"y":71},{"s":"c2e","x":1.12,"y":70},{"s":"c2e","x":1.097,"y":69},{"s":"c2e","x":1.07,"y":67},{"s":"c2e","x":1.039,"y":66},{"s":"c2e","x":1.01,"y":68},{"s":"c2e","x":0.98,"y":67},{"s":"c2e","x":0.95,"y":65},{"s":"c2e","x":0.92,"y":66},{"s":"c2e","x":0.893,"y":64},
{"s":"c3a","x":5.0,"y":32},{"s":"c3a","x":4.983,"y":30},{"s":"c3a","x":4.965,"y":31},{"s":"c3a","x":4.95,"y":33},{"s":"c3a","x":4.936,"y":34},{"s":"c3a","x":4.92,"y":31},{"s":"c3a","x":4.90,"y":32},{"s":"c3a","x":4.888,"y":35},{"s":"c3a","x":4.877,"y":36},{"s":"c3a","x":4.862,"y":34},{"s":"c3a","x":4.848,"y":37},{"s":"c3a","x":4.835,"y":40},{"s":"c3a","x":4.828,"y":46},{"s":"c3a","x":4.82,"y":42},{"s":"c3a","x":4.805,"y":47},{"s":"c3a","x":4.795,"y":52},{"s":"c3a","x":4.79,"y":57},{"s":"c3a","x":4.785,"y":281},
{"s":"c3b","x":4.769,"y":281},{"s":"c3b","x":4.767,"y":152},{"s":"c3b","x":4.765,"y":281},
{"s":"c3c","x":4.740,"y":281},{"s":"c3c","x":4.737,"y":57},{"s":"c3c","x":4.72,"y":52},{"s":"c3c","x":4.705,"y":44},{"s":"c3c","x":4.69,"y":25},{"s":"c3c","x":4.675,"y":5},{"s":"c3c","x":4.665,"y":12},{"s":"c3c","x":4.655,"y":0},{"s":"c3c","x":4.645,"y":8},{"s":"c3c","x":4.637,"y":0},{"s":"c3c","x":4.628,"y":6},{"s":"c3c","x":4.615,"y":17},{"s":"c3c","x":4.602,"y":17},{"s":"c3c","x":4.588,"y":21},{"s":"c3c","x":4.572,"y":24},{"s":"c3c","x":4.558,"y":17},{"s":"c3c","x":4.543,"y":23},{"s":"c3c","x":4.528,"y":26},{"s":"c3c","x":4.514,"y":20},{"s":"c3c","x":4.50,"y":21},{"s":"c3c","x":4.485,"y":26},{"s":"c3c","x":4.47,"y":20},{"s":"c3c","x":4.456,"y":19},{"s":"c3c","x":4.44,"y":25},{"s":"c3c","x":4.427,"y":24},{"s":"c3c","x":4.412,"y":18},{"s":"c3c","x":4.398,"y":19},{"s":"c3c","x":4.383,"y":24},{"s":"c3c","x":4.368,"y":25},{"s":"c3c","x":4.354,"y":20},{"s":"c3c","x":4.339,"y":19},{"s":"c3c","x":4.325,"y":23},{"s":"c3c","x":4.31,"y":24},{"s":"c3c","x":4.29,"y":20},{"s":"c3c","x":4.267,"y":21},{"s":"c3c","x":4.24,"y":25},{"s":"c3c","x":4.208,"y":24},{"s":"c3c","x":4.18,"y":21},{"s":"c3c","x":4.15,"y":23},{"s":"c3c","x":4.12,"y":20},{"s":"c3c","x":4.093,"y":22},{"s":"c3c","x":4.06,"y":24},{"s":"c3c","x":4.03,"y":21},{"s":"c3c","x":4.0,"y":23},{"s":"c3c","x":3.97,"y":21},{"s":"c3c","x":3.947,"y":24},{"s":"c3c","x":3.92,"y":23},{"s":"c3c","x":3.89,"y":27},{"s":"c3c","x":3.86,"y":24},{"s":"c3c","x":3.831,"y":22},{"s":"c3c","x":3.80,"y":23},{"s":"c3c","x":3.772,"y":21},{"s":"c3c","x":3.758,"y":19},{"s":"c3c","x":3.745,"y":20},{"s":"c3c","x":3.743,"y":281},
{"s":"c3d","x":3.664,"y":281},{"s":"c3d","x":3.662,"y":37},{"s":"c3d","x":3.642,"y":36},{"s":"c3d","x":3.63,"y":32},{"s":"c3d","x":3.598,"y":31},{"s":"c3d","x":3.57,"y":33},{"s":"c3d","x":3.54,"y":34},{"s":"c3d","x":3.517,"y":39},{"s":"c3d","x":3.504,"y":41},{"s":"c3d","x":3.488,"y":37},{"s":"c3d","x":3.464,"y":29},{"s":"c3d","x":3.44,"y":27},{"s":"c3d","x":3.423,"y":26},{"s":"c3d","x":3.395,"y":25},{"s":"c3d","x":3.368,"y":26},{"s":"c3d","x":3.34,"y":27},{"s":"c3d","x":3.307,"y":29},{"s":"c3d","x":3.293,"y":34},{"s":"c3d","x":3.278,"y":26},{"s":"c3d","x":3.25,"y":25},{"s":"c3d","x":3.22,"y":24},{"s":"c3d","x":3.18,"y":22},{"s":"c3d","x":3.14,"y":25},{"s":"c3d","x":3.10,"y":23},{"s":"c3d","x":3.06,"y":21},{"s":"c3d","x":3.02,"y":24},{"s":"c3d","x":2.98,"y":22},{"s":"c3d","x":2.94,"y":25},{"s":"c3d","x":2.90,"y":23},{"s":"c3d","x":2.86,"y":21},{"s":"c3d","x":2.82,"y":24},{"s":"c3d","x":2.78,"y":22},{"s":"c3d","x":2.74,"y":25},{"s":"c3d","x":2.70,"y":23},{"s":"c3d","x":2.66,"y":21},{"s":"c3d","x":2.62,"y":24},{"s":"c3d","x":2.58,"y":22},{"s":"c3d","x":2.54,"y":25},{"s":"c3d","x":2.50,"y":23},{"s":"c3d","x":2.46,"y":21},{"s":"c3d","x":2.42,"y":24},{"s":"c3d","x":2.38,"y":22},{"s":"c3d","x":2.34,"y":25},{"s":"c3d","x":2.30,"y":23},{"s":"c3d","x":2.26,"y":21},{"s":"c3d","x":2.22,"y":24},{"s":"c3d","x":2.18,"y":22},{"s":"c3d","x":2.14,"y":25},{"s":"c3d","x":2.10,"y":23},{"s":"c3d","x":2.06,"y":21},{"s":"c3d","x":2.02,"y":24},{"s":"c3d","x":1.98,"y":22},{"s":"c3d","x":1.94,"y":25},{"s":"c3d","x":1.90,"y":23},{"s":"c3d","x":1.86,"y":21},{"s":"c3d","x":1.82,"y":24},{"s":"c3d","x":1.79,"y":22},{"s":"c3d","x":1.766,"y":24},{"s":"c3d","x":1.737,"y":36},{"s":"c3d","x":1.722,"y":31},{"s":"c3d","x":1.708,"y":32},{"s":"c3d","x":1.694,"y":34},{"s":"c3d","x":1.679,"y":27},{"s":"c3d","x":1.65,"y":22},{"s":"c3d","x":1.621,"y":17},{"s":"c3d","x":1.607,"y":14},{"s":"c3d","x":1.6,"y":281},
{"s":"c3e","x":1.566,"y":281},{"s":"c3e","x":1.563,"y":214},{"s":"c3e","x":1.56,"y":281},
{"s":"c3f","x":1.506,"y":281},{"s":"c3f","x":1.504,"y":41},{"s":"c3f","x":1.49,"y":32},{"s":"c3f","x":1.475,"y":31},{"s":"c3f","x":1.446,"y":29},{"s":"c3f","x":1.417,"y":41},{"s":"c3f","x":1.394,"y":32},{"s":"c3f","x":1.373,"y":39},{"s":"c3f","x":1.36,"y":29},{"s":"c3f","x":1.33,"y":27},{"s":"c3f","x":1.30,"y":26},{"s":"c3f","x":1.272,"y":26},{"s":"c3f","x":1.245,"y":29},{"s":"c3f","x":1.22,"y":27},{"s":"c3f","x":1.199,"y":31}
],
"lab": [
{"p":"A","x":2.643,"y":724,"t":"= 2.503 T/m"},{"p":"A","x":2.627,"y":686,"t":"= 1.335 T/m"},{"p":"A","x":2.727,"y":647,"t":"= 0.334 T/m"},
{"p":"B","x":2.718,"y":425,"t":"= 2.904 T/m"},{"p":"B","x":2.902,"y":381,"t":"= 1.626 T/m"},{"p":"B","x":3.018,"y":346,"t":"= 0.348 T/m"},
{"p":"C","x":2.643,"y":113,"t":"= 2.904 T/m"},{"p":"C","x":2.768,"y":74,"t":"= 1.626 T/m"},{"p":"C","x":2.935,"y":37,"t":"= 0.348 T/m"}
],
"txt": [
{"k":"h2o","x":4.422,"y":189,"t":"H"},{"k":"dmmp","x":2.421,"y":189,"t":"DMMP"},
{"k":"pan","x":0.76,"y":847,"t":"A"},{"k":"pan","x":0.739,"y":517,"t":"B"},{"k":"pan","x":0.735,"y":222,"t":"C"},
{"k":"div","x":0.793,"y":626,"t":"/3"}
],
"arr": [
{"a":"h","x":4.32,"y":174,"x2":4.405,"y2":112},
{"a":"l","x":2.452,"y":187,"x2":2.936,"y2":146},
{"a":"r","x":1.902,"y":187,"x2":1.072,"y2":146}
],
"ax": [{"x":5.0,"x2":1.217,"y":0}]
},
"encoding": {
"x": {"field": "x", "type": "quantitative",
 "scale": {"domain": [0.568, 5.11], "reverse": true, "nice": false, "zero": false},
 "axis": {"values": [5, 4.5, 4, 3.5, 3, 2.5, 2, 1.5],
  "labelExpr": "datum.value % 1 === 0 ? format(datum.value, 'd') : ''",
  "domain": false, "grid": false, "ticks": true, "tickSize": 6, "tickColor": "black", "tickWidth": 1.2,
  "labelFont": "Liberation Sans", "labelFontWeight": "bold", "labelFontSize": 17, "labelColor": "black", "labelPadding": 9,
  "labelFlush": false, "labelOverlap": false,
  "title": "Chemical shift (ppm)", "titleFont": "Liberation Sans", "titleFontSize": 35, "titleFontWeight": "normal",
  "titleColor": "black", "titleX": 244, "titleY": 66, "titleBaseline": "alphabetic", "titleAlign": "center"}},
"y": {"field": "y", "type": "quantitative", "scale": {"domain": [0, 944], "nice": false, "zero": false}, "axis": null}
},
"layer": [
{"data": {"name": "tr"}, "mark": {"type": "line", "color": "black", "strokeWidth": 1.3, "interpolate": "linear"},
 "encoding": {"detail": {"field": "s"}, "order": {"value": null}}},
{"data": {"name": "ax"}, "mark": {"type": "rule", "color": "black", "strokeWidth": 1.2}, "encoding": {"x2": {"field": "x2"}}},
{"data": {"name": "arr"}, "mark": {"type": "rule", "color": "black", "strokeWidth": 2}, "encoding": {"x2": {"field": "x2"}, "y2": {"field": "y2"}}},
{"data": {"name": "arr"}, "transform": [{"filter": "datum.a === 'h'"}], "mark": {"type": "point", "shape": "M0,-1L0.65,0.8L-0.65,0.8Z", "filled": true, "color": "black", "opacity": 1, "size": 150, "angle": 189.3},
 "encoding": {"x": {"field": "x2", "type": "quantitative"}, "y": {"field": "y2", "type": "quantitative"}}},
{"data": {"name": "arr"}, "transform": [{"filter": "datum.a === 'l'"}], "mark": {"type": "point", "shape": "M0,-1L0.65,0.8L-0.65,0.8Z", "filled": true, "color": "black", "opacity": 1, "size": 150, "angle": 235},
 "encoding": {"x": {"field": "x2", "type": "quantitative"}, "y": {"field": "y2", "type": "quantitative"}}},
{"data": {"name": "arr"}, "transform": [{"filter": "datum.a === 'r'"}], "mark": {"type": "point", "shape": "M0,-1L0.65,0.8L-0.65,0.8Z", "filled": true, "color": "black", "opacity": 1, "size": 150, "angle": 112.3},
 "encoding": {"x": {"field": "x2", "type": "quantitative"}, "y": {"field": "y2", "type": "quantitative"}}},
{"data": {"name": "lab"}, "mark": {"type": "text", "text": "g", "font": "Liberation Sans", "fontStyle": "italic", "fontWeight": "bold", "fontSize": 18, "align": "left", "baseline": "alphabetic", "color": "black"}},
{"data": {"name": "lab"}, "transform": [{"filter": "datum.p !== 'A'"}], "mark": {"type": "text", "text": "1", "font": "Liberation Sans", "fontStyle": "italic", "fontWeight": "bold", "fontSize": 11, "align": "left", "baseline": "alphabetic", "dx": 10, "dy": 4, "color": "black"}},
{"data": {"name": "lab"}, "transform": [{"filter": "datum.p === 'A'"}], "mark": {"type": "text", "font": "Liberation Sans", "fontWeight": "bold", "fontSize": 18, "align": "left", "baseline": "alphabetic", "dx": 15, "color": "black"}, "encoding": {"text": {"field": "t"}}},
{"data": {"name": "lab"}, "transform": [{"filter": "datum.p !== 'A'"}], "mark": {"type": "text", "font": "Liberation Sans", "fontWeight": "bold", "fontSize": 18, "align": "left", "baseline": "alphabetic", "dx": 17.5, "color": "black"}, "encoding": {"text": {"field": "t"}}},
{"data": {"name": "txt"}, "transform": [{"filter": "datum.k === 'h2o'"}], "mark": {"type": "text", "text": "H", "font": "Liberation Sans", "fontWeight": "bold", "fontSize": 22, "align": "left", "baseline": "alphabetic", "color": "black"}},
{"data": {"name": "txt"}, "transform": [{"filter": "datum.k === 'h2o'"}], "mark": {"type": "text", "text": "2", "font": "Liberation Sans", "fontWeight": "bold", "fontSize": 13, "align": "left", "baseline": "alphabetic", "dx": 16, "dy": 7, "color": "black"}},
{"data": {"name": "txt"}, "transform": [{"filter": "datum.k === 'h2o'"}], "mark": {"type": "text", "text": "O", "font": "Liberation Sans", "fontWeight": "bold", "fontSize": 22, "align": "left", "baseline": "alphabetic", "dx": 23, "color": "black"}},
{"data": {"name": "txt"}, "transform": [{"filter": "datum.k === 'dmmp'"}], "mark": {"type": "text", "font": "Liberation Sans", "fontWeight": "bold", "fontSize": 22, "align": "left", "baseline": "alphabetic", "color": "black"}, "encoding": {"text": {"field": "t"}}},
{"data": {"name": "txt"}, "transform": [{"filter": "datum.k === 'pan'"}], "mark": {"type": "text", "font": "Liberation Serif", "fontWeight": "bold", "fontSize": 35, "align": "center", "baseline": "alphabetic", "color": "black"}, "encoding": {"text": {"field": "t"}}},
{"data": {"name": "txt"}, "transform": [{"filter": "datum.k === 'div'"}], "mark": {"type": "text", "font": "Liberation Sans", "fontWeight": "bold", "fontSize": 31, "align": "left", "baseline": "alphabetic", "color": "black"}, "encoding": {"text": {"field": "t"}}}
]
}
